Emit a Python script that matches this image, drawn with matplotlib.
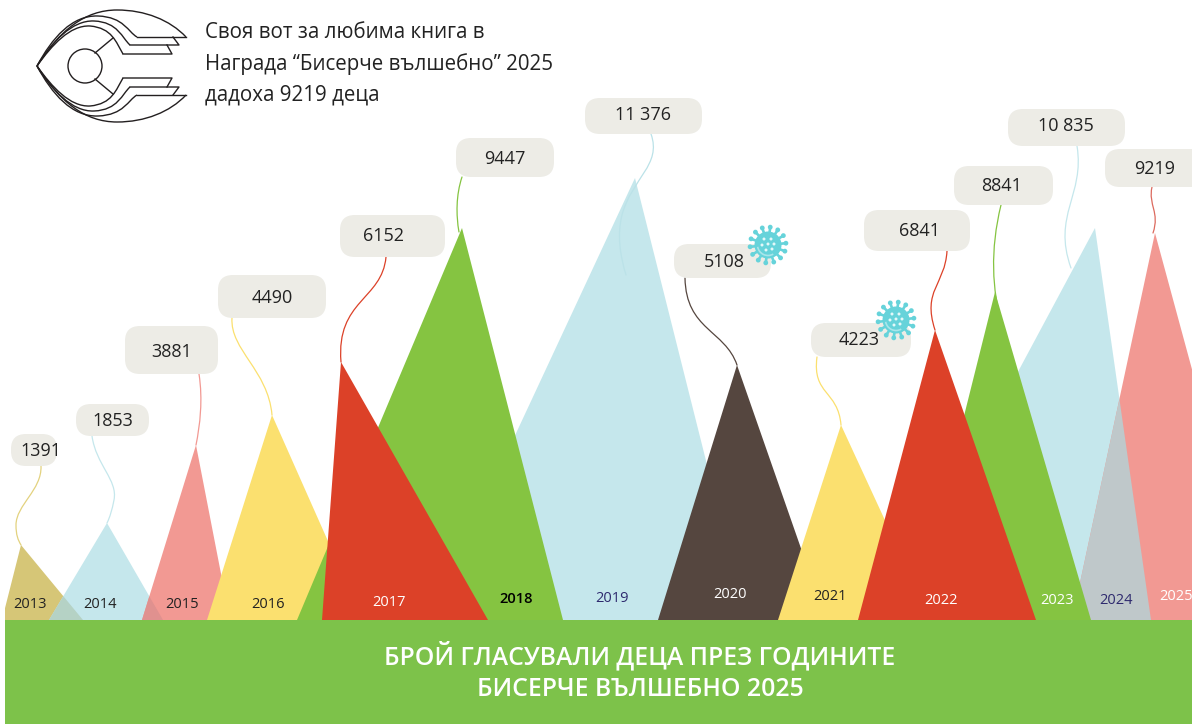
import matplotlib.pyplot as plt
from matplotlib.patches import Polygon, Rectangle, Circle, FancyBboxPatch, PathPatch, Arc
from matplotlib.path import Path
import numpy as np

plt.rcParams['font.family'] = ['Open Sans', 'DejaVu Sans']

# Values
years = [2013, 2014, 2015, 2016, 2017, 2018, 2019, 2020, 2021, 2022, 2023, 2024, 2025]
votes = [1391, 1853, 3881, 4490, 6152, 9447, 11376, 5108, 4223, 6841, 8841, 10835, 9219]

# The peaks are not to scale in the original, so read each one off the picture
peak_heights = [75, 97, 175, 205, 258, 392, 442, 255, 195, 290, 328, 392, 387]
peak_x = [21, 107, 196, 272, 341, 462, 635, 737, 841, 935, 995, 1095, 1155]
base_left = [2, 49, 142, 207, 322, 297, 429, 658, 778, 858, 913, 885, 1072]
base_right = [83, 163, 230, 363, 488, 563, 746, 826, 931, 1036, 1091, 1151, 1260]

GROUND = 620  # pixel row of the top of the green band


def py(row):
    # picture row -> height above the band
    return GROUND - row


colors = ['#D6C677', '#C5E7EC', '#F29993', '#FBE06F', '#DC4128', '#85C441', '#C5E7EC',
          '#55463F', '#FBE06F', '#DC4128', '#85C441', '#C5E7EC', '#F29993']
draw_order = [2013, 2014, 2015, 2016, 2019, 2018, 2017, 2020, 2021, 2024, 2025, 2023, 2022]

# pill: left, right, top, bottom, text x, text y (picture pixels)
pills = {
    2013: (11, 57, 434, 466, 41, 451),
    2014: (76, 149, 404, 436, 113, 421),
    2015: (125, 218, 326, 374, 172, 352),
    2016: (218, 326, 275, 318, 272, 298),
    2017: (340, 445, 215, 257, 384, 236),
    2018: (456, 554, 138, 177, 505, 159),
    2019: (585, 702, 98, 134, 643, 115),
    2020: (674, 771, 244, 278, 724, 262),
    2021: (811, 911, 323, 357, 859, 340),
    2022: (864, 970, 210, 251, 919, 231),
    2023: (954, 1053, 166, 205, 1002, 186),
    2024: (1008, 1125, 109, 146, 1066, 126),
    2025: (1105, 1210, 149, 187, 1155, 169),
}

# connector: start, then bezier control pairs + end (picture pixels)
connectors = {
    2013: [(41, 466), (42, 490), (16, 505), (16, 525), (16, 535), (18, 540), (21, 545)],
    2014: [(92, 436), (96, 465), (118, 480), (114, 500), (112, 510), (110, 517), (107, 523)],
    2015: [(199, 374), (203, 400), (200, 425), (196, 445)],
    2016: [(232, 318), (230, 350), (268, 370), (272, 415)],
    2017: [(386, 257), (382, 300), (336, 300), (341, 362)],
    2018: [(462, 177), (456, 195), (456, 215), (459, 232)],
    2019: [(651, 134), (662, 165), (632, 178), (622, 215), (617, 235), (620, 255), (626, 275)],
    2020: [(685, 278), (686, 330), (725, 330), (737, 365)],
    2021: [(817, 357), (812, 395), (838, 390), (841, 425)],
    2022: [(947, 251), (945, 285), (922, 290), (935, 330)],
    2023: [(1001, 205), (990, 250), (992, 290), (1002, 325)],
    2024: [(1077, 146), (1085, 195), (1052, 215), (1071, 268)],
    2025: [(1152, 187), (1148, 205), (1160, 212), (1153, 233)],
}
connector_colors = ['#E3D27F', '#C5E7EC', '#F29993', '#FBE06F', '#DC4128', '#85C441', '#BBE2E8',
                    '#55463F', '#FBE06F', '#DC4128', '#85C441', '#C5E7EC', '#DC6A5E']

# year label position (picture pixels) and colour
year_pos = [(30, 605), (100, 604), (182, 604), (268, 604), (389, 603), (516, 599), (612, 598),
            (730, 595), (830, 597), (941, 600), (1057, 600), (1116, 600), (1176, 597)]
year_colors = ['#222222', '#222222', '#222222', '#222222', 'white', 'black', '#2E2A6E',
               'white', '#222222', 'white', 'white', '#2E2A6E', 'white']

fig = plt.figure(figsize=(11.92, 7.24), dpi=100)
ax = fig.add_axes([0, 0, 1, 1])
ax.set_xlim(0, 1192)
ax.set_ylim(py(724), py(0))
ax.axis('off')


def triangle(i, color, z):
    pts = [(base_left[i], 0), (peak_x[i], peak_heights[i]), (base_right[i], 0)]
    return Polygon(pts, closed=True, facecolor=color, edgecolor='none', zorder=z)


# Everything left of the band start gets cut
clip_box = Rectangle((5, 0), 1187, 700, transform=ax.transData)

for year in draw_order:
    i = years.index(year)
    tri = ax.add_patch(triangle(i, colors[i], 2 + draw_order.index(year) * 0.1))
    tri.set_clip_path(clip_box)

# Overlaps have their own tint: (lower year, upper year, colour, z)
# the 2024/2025 one has to stay behind the 2023 green
for a, b, tint, z in [(2013, 2014, '#B5D2C5', 2.25), (2014, 2015, '#E0918F', 2.25),
                      (2024, 2025, '#BFC8CA', 3.05)]:
    ia, ib = years.index(a), years.index(b)
    over = ax.add_patch(triangle(ia, tint, z))
    over.set_clip_path(triangle(ib, 'none', z).get_path(),
                       triangle(ib, 'none', z).get_transform() + ax.transData)

# Band
ax.add_patch(Rectangle((5, py(724)), 1187, 104, facecolor='#7DC24A', edgecolor='none', zorder=5))

# Connectors and pills
for i, year in enumerate(years):
    pts = [(x, py(r)) for x, r in connectors[year]]
    codes = [Path.MOVETO] + [Path.CURVE4] * (len(pts) - 1)
    ax.add_patch(PathPatch(Path(pts, codes), facecolor='none', edgecolor=connector_colors[i],
                           lw=0.9, zorder=6, capstyle='round'))

    left, right, top, bottom, tx, ty = pills[year]
    ax.add_patch(FancyBboxPatch((left, py(bottom)), right - left, bottom - top,
                                boxstyle='round,pad=0,rounding_size=%d' % min(15, (bottom - top) / 2),
                                facecolor='#EDECE6', edgecolor='none', zorder=7))
    label = str(votes[i]) if votes[i] < 10000 else f'{votes[i] // 1000} {votes[i] % 1000:03d}'
    ax.text(tx, py(ty), label, ha='center', va='center', fontsize=13, color='#222222', zorder=10)

    ax.text(year_pos[i][0], py(year_pos[i][1]), str(year), ha='center', va='center',
            fontsize=10.5, color=year_colors[i], zorder=6,
            fontweight='semibold' if year == 2018 else 'normal', clip_on=True)


def virus(cx, cy):
    col = '#66D3DA'
    y0 = py(cy)
    for ang in np.linspace(0, 2 * np.pi, 14, endpoint=False) + 0.1:
        ax.plot([cx + 9 * np.cos(ang), cx + 18 * np.cos(ang)],
                [y0 + 9 * np.sin(ang), y0 + 18 * np.sin(ang)], color=col, lw=1.9, zorder=8)
        ax.add_patch(Circle((cx + 18 * np.cos(ang), y0 + 18 * np.sin(ang)), 2.4, color=col, lw=0, zorder=8))
    ax.add_patch(Circle((cx, y0), 13.5, color=col, lw=0, zorder=8))
    ax.add_patch(Arc((cx, y0), 21, 21, theta1=190, theta2=300, color='#A8E6EA', lw=1.2, zorder=8))
    for dx, dy in [(-4, 6), (3, 6), (-6, 0), (0, 1), (6, 1), (-2, -5), (4, -4)]:
        ax.add_patch(Circle((cx + dx, y0 + dy), 1.5, color='#E4F8F9', lw=0, zorder=8))


virus(768, 245)
virus(896, 320)

# Logo, upper half is mirrored about row 66
LOGO_MID = 66
logo_curves = [
    [(37, 66), (60, 30), (85, 10), (117, 10), (145, 10), (170, 20), (186, 37)],
    [(137, 37), (128, 32), (124, 17), (98, 16), (72, 15), (52, 38), (37, 66)],
    [(130, 45), (122, 38), (118, 22), (94, 21), (72, 20), (52, 42), (37, 66)],
    [(123, 54), (116, 42), (112, 28), (90, 26), (70, 25), (52, 45), (37, 66)],
]
logo_lines = [
    [(186, 37), (137, 37)],
    [(173, 37), (179, 45), (130, 45)],
    [(167, 45), (172, 54), (123, 54)],
    [(95, 53), (113, 38)],
]
for sign in (1, -1):
    for seg in logo_curves:
        pts = [(x, py(LOGO_MID + sign * (r - LOGO_MID))) for x, r in seg]
        codes = [Path.MOVETO] + [Path.CURVE4] * (len(pts) - 1)
        ax.add_patch(PathPatch(Path(pts, codes), facecolor='none', edgecolor='#231F20', lw=1.0, zorder=3))
    for seg in logo_lines:
        ax.plot([x for x, r in seg], [py(LOGO_MID + sign * (r - LOGO_MID)) for x, r in seg],
                color='#231F20', lw=1.0, zorder=3)
ax.add_patch(Circle((85, py(LOGO_MID)), 17, facecolor='none', edgecolor='#231F20', lw=1.0))

# Title
for row, line in zip([32, 64, 95], ['Своя вот за любима книга в',
                                    'Награда “Бисерче вълшебно” 2025',
                                    'дадоха 9219 деца']):
    ax.text(205, py(row), line, ha='left', va='center', fontsize=14.8, color='#222222')

ax.text(640, py(656), 'БРОЙ ГЛАСУВАЛИ ДЕЦА ПРЕЗ ГОДИНИТЕ', ha='center', va='center',
        fontsize=17.8, fontweight='semibold', color='white', zorder=6)
ax.text(640, py(689), 'БИСЕРЧЕ ВЪЛШЕБНО 2025', ha='center', va='center',
        fontsize=17.8, fontweight='semibold', color='white', zorder=6)

fig.savefig('out.png', dpi=100)
